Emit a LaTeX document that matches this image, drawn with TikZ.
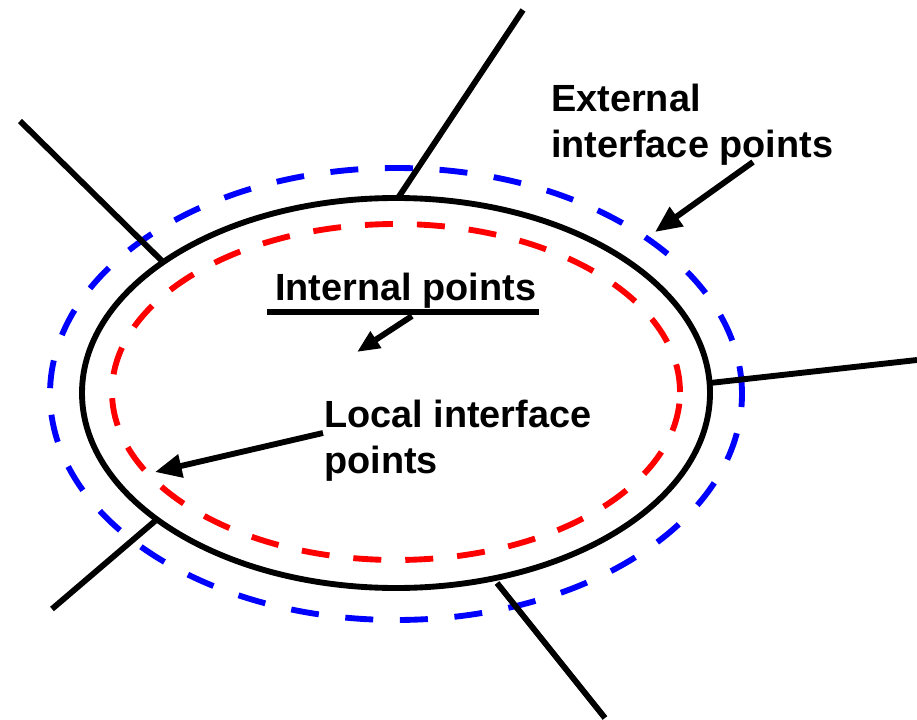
\documentclass[tikz,border=0pt]{standalone}
\usepackage{fontspec}
\setmainfont{Liberation Sans}
\usetikzlibrary{arrows.meta}
\begin{document}
\begin{tikzpicture}[x=0.75pt,y=-0.75pt,
  solidline/.style={line width=4.4pt,black},
  blueoval/.style={line width=4.4pt,blue,dash pattern=on 21pt off 20pt},
  redoval/.style={line width=4.4pt,red,dash pattern=on 21pt off 18pt},
  pointer/.style={line width=4.4pt,-{Triangle[length=20pt,width=17pt]}},
  lbl/.style={inner sep=0pt,anchor=north west,align=left,font=\bfseries\fontsize{28.4}{34}\selectfont}]
\useasboundingbox (0,0) rectangle (917,720);
\fill[white] (0,0) rectangle (917,720);
% dashed ovals
\draw[blueoval] (396,394) ellipse [x radius=259.5pt, y radius=169.5pt];
\draw[redoval] (396,392) ellipse [x radius=213pt, y radius=126pt];
% cell boundary
\draw[solidline] (396,393) ellipse [x radius=235.5pt, y radius=146.25pt];
% interface points on the boundary and outer ends
\coordinate (pT) at (398,198);
\coordinate (pUL) at (163,262);
\coordinate (pR) at (710,383);
\coordinate (pLL) at (155,521);
\coordinate (pB) at (497,583);
\coordinate (eT) at (523,10);
\coordinate (eUL) at (20,121);
\coordinate (eR) at (917,360);
\coordinate (eLL) at (52,609);
\coordinate (eB) at (605,718);
\draw[solidline] (pT) -- (eT);
\draw[solidline] (pUL) -- (eUL);
\draw[solidline] (pR) -- (eR);
\draw[solidline] (pLL) -- (eLL);
\draw[solidline] (pB) -- (eB);
% labels
\node[lbl] (ext) at (551,84) {External\\interface points};
\node[lbl] (int) at (275,273) {Internal points};
\node[lbl] (loc) at (324,400) {Local interface\\points};
\coordinate (ulA) at (267,312);
\coordinate (ulB) at (539,312);
\draw[solidline] (ulA) -- (ulB);
% arrows
\coordinate (extTail) at (753,162);
\coordinate (extTip) at (655,232);
\coordinate (intTail) at (412,316);
\coordinate (intTip) at (357,352);
\coordinate (locTail) at (323,433);
\coordinate (locTip) at (155,472);
\draw[pointer] (extTail) -- (extTip);
\draw[pointer,-{Triangle[length=17pt,width=14pt]}] (intTail) -- (intTip);
\draw[pointer] (locTail) -- (locTip);
\end{tikzpicture}
\end{document}
